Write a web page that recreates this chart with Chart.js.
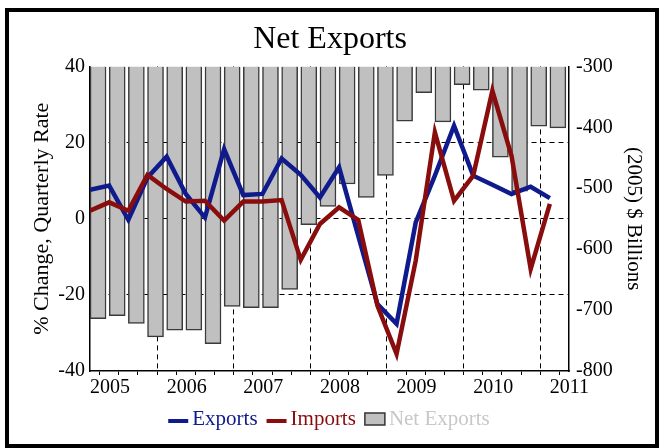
<!DOCTYPE html>
<html>
<head>
<meta charset="utf-8">
<script src="https://cdn.jsdelivr.net/npm/chart.js@4.4.1/dist/chart.umd.min.js"></script>
<style>
html,body{margin:0;padding:0;background:#fff;}
#wrap{width:660px;height:448px;position:relative;}
</style>
</head>
<body>
<div id="wrap"><canvas id="c" width="660" height="448"></canvas></div>
<script>
// Quarters 2005Q1 .. 2011Q1
const quarters = ['2005Q1','2005Q2','2005Q3','2005Q4','2006Q1','2006Q2','2006Q3','2006Q4',
  '2007Q1','2007Q2','2007Q3','2007Q4','2008Q1','2008Q2','2008Q3','2008Q4',
  '2009Q1','2009Q2','2009Q3','2009Q4','2010Q1','2010Q2','2010Q3','2010Q4','2011Q1'];
const yearLabels = ['2005','2006','2007','2008','2009','2010','2011'];
// % change, quarterly rate (left axis)
const exportsData = [7.6, 8.7, -0.3, 10.8, 16.3, 6.5, 0.3, 18.3, 6.2, 6.5, 15.8, 11.5, 5.6,
  13.5, -4.5, -22.4, -27.6, -1.0, 11.3, 24.4, 11.3, 8.9, 6.5, 8.4, 5.4];
const importsData = [2.1, 4.3, 2.1, 11.5, 7.8, 4.5, 4.7, -0.5, 4.5, 4.5, 4.9, -10.8, -1.4,
  3.0, -0.3, -22.8, -35.5, -11.0, 22.7, 4.7, 11.3, 33.6, 16.5, -13.2, 3.9];
// (2005) $ billions (right axis)
const netExports = [-714, -709, -722, -744, -733, -733, -755, -694, -696, -696, -666, -560, -530,
  -493, -515, -479, -390, -343, -391, -330, -339, -449, -505, -398, -401];

const SERIF = "'Liberation Serif', 'Times New Roman', serif";
const BLUE = '#0f1a8c';
const RED = '#8a0d0d';
const BAR_FILL = '#c0c0c0';
const BAR_EDGE = '#3a3a3a';
const LEGEND_GRAY = '#c8c8c8';

Chart.defaults.font.family = SERIF;
Chart.defaults.color = '#000';

const frameAndLegend = {
  id: 'frameAndLegend',
  beforeDraw(chart) {
    const ctx = chart.ctx;
    ctx.save();
    ctx.fillStyle = '#fff';
    ctx.fillRect(0, 0, chart.width, chart.height);
    ctx.restore();
  },
  afterDraw(chart) {
    const ctx = chart.ctx;
    ctx.save();
    // outer frame
    ctx.strokeStyle = '#000';
    ctx.lineWidth = 4;
    ctx.strokeRect(7, 10, 650, 436);
    // legend
    ctx.font = '21px ' + SERIF;
    ctx.textBaseline = 'middle';
    ctx.textAlign = 'left';
    const items = chart.data.datasets.slice().sort((a, b) => a.legendIndex - b.legendIndex);
    const mark = 20, gapIn = 4, gapOut = 9;
    let total = 0;
    items.forEach((d, k) => {
      total += mark + gapIn + ctx.measureText(d.label).width + (k < items.length - 1 ? gapOut : 0);
    });
    let x = 329 - total / 2;
    const y = 419;
    items.forEach(d => {
      if (d.type === 'bar') {
        ctx.fillStyle = d.backgroundColor;
        ctx.fillRect(x, y - 6, mark, 12);
        ctx.strokeStyle = '#333';
        ctx.lineWidth = 1.5;
        ctx.strokeRect(x, y - 6, mark, 12);
        ctx.fillStyle = LEGEND_GRAY;
      } else {
        ctx.strokeStyle = d.borderColor;
        ctx.lineWidth = 4;
        ctx.beginPath();
        ctx.moveTo(x, y + 2);
        ctx.lineTo(x + mark, y + 2);
        ctx.stroke();
        ctx.fillStyle = d.borderColor;
      }
      x += mark + gapIn;
      ctx.fillText(d.label, x, y);
      x += ctx.measureText(d.label).width + gapOut;
    });
    ctx.restore();
  }
};

const dash = [5, 4];
const clear = 'rgba(0,0,0,0)';

new Chart(document.getElementById('c'), {
  type: 'line',
  data: {
    datasets: [
      {
        type: 'line', label: 'Imports', legendIndex: 1,
        data: importsData.map((v, i) => ({x: i, y: v})),
        borderColor: RED, backgroundColor: RED, borderWidth: 4.5,
        pointRadius: 0, tension: 0, yAxisID: 'y', order: 0
      },
      {
        type: 'line', label: 'Exports', legendIndex: 0,
        data: exportsData.map((v, i) => ({x: i, y: v})),
        borderColor: BLUE, backgroundColor: BLUE, borderWidth: 4.5,
        pointRadius: 0, tension: 0, yAxisID: 'y', order: 1
      },
      {
        type: 'bar', label: 'Net Exports', legendIndex: 2,
        data: netExports.map((v, i) => ({x: i + 0.42, y: [-300, v]})),
        backgroundColor: BAR_FILL, borderColor: BAR_EDGE, borderWidth: 1.5,
        barThickness: 16, yAxisID: 'y2', order: 2
      }
    ]
  },
  options: {
    responsive: false,
    animation: false,
    layout: {padding: {left: 0, right: 0, top: 0, bottom: 40}},
    plugins: {
      legend: {display: false},
      tooltip: {enabled: false},
      title: {
        display: true, text: 'Net Exports', color: '#000',
        font: {family: SERIF, size: 32, weight: 'normal'},
        padding: {top: 20, bottom: 8}
      }
    },
    scales: {
      x: {
        type: 'linear', min: 0, max: 25, offset: false,
        afterFit: s => { s.height = 37; },
        ticks: {
          stepSize: 1, autoSkip: false, maxRotation: 0, align: 'start', padding: 1,
          font: {size: 20}, color: '#000',
          callback: v => (v % 4 === 0 && v <= 24) ? yearLabels[v / 4] : ''
        },
        grid: {
          color: c => { const v = c.tick && c.tick.value; return (v % 4 === 0 && v > 0 && v < 25) ? '#000' : clear; },
          tickColor: '#000', tickLength: 4, lineWidth: 1, tickBorderDash: []
        },
        border: {display: true, color: '#000', width: 1.5, dash: dash}
      },
      y: {
        type: 'linear', position: 'left', min: -40, max: 40,
        afterFit: s => { s.width = 90; },
        ticks: {stepSize: 20, font: {size: 20}, color: '#000', padding: 5},
        grid: {
          color: c => { const v = c.tick && c.tick.value; return (v === 20 || v === 0 || v === -20) ? '#000' : clear; },
          drawTicks: false, lineWidth: 1
        },
        border: {display: true, color: '#000', width: 1.5, dash: dash},
        title: {display: true, text: '% Change, Quarterly Rate', color: '#000',
          font: {size: 22}, padding: {top: 29, bottom: 0}}
      },
      y2: {
        type: 'linear', position: 'right', min: -800, max: -300,
        afterFit: s => { s.width = 91; },
        ticks: {stepSize: 100, font: {size: 20}, color: '#000', padding: 7},
        grid: {drawOnChartArea: false, drawTicks: false},
        border: {display: true, color: '#000', width: 1.5},
        title: {display: true, text: '(2005) $ Billions', color: '#000',
          font: {size: 21}, padding: {top: 14, bottom: 0}}
      }
    }
  },
  plugins: [frameAndLegend]
});
</script>
</body>
</html>
